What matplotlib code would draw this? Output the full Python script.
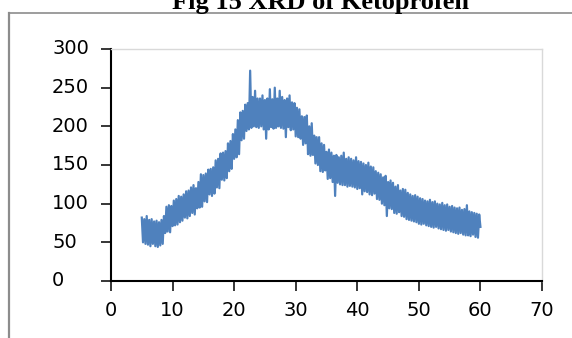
import numpy as np
import matplotlib
matplotlib.use("Agg")
import matplotlib.pyplot as plt
from matplotlib.lines import Line2D
from matplotlib.transforms import blended_transform_factory

# ---- data (2-theta step 0.2 deg from 5 to 60) ----
two_theta_start = 5.0
two_theta_step = 0.2
intensity = [
    82, 50, 80, 48, 84,     47, 79, 45, 80, 48,     77, 45, 78, 44, 76,     46, 79, 48, 84, 62,
    96, 64, 98, 63, 97,     71, 104, 72, 106, 73,   110, 76, 109, 78, 112,  82, 116, 81, 117, 84,
    121, 88, 124, 86, 120,  94, 128, 95, 138, 96,   137, 103, 139, 102, 144, 112, 145, 110, 147, 113,
    156, 121, 158, 120, 165, 131, 166, 130, 168, 133, 178, 142, 181, 145, 190, 158, 196, 160, 208, 164,
    218, 182, 220, 184, 228, 194, 230, 196, 272, 198, 238, 200, 246, 199, 236, 198, 236, 200, 240, 196,
    234, 184, 236, 196, 248, 199, 235, 197, 250, 198, 236, 200, 246, 198, 238, 197, 234, 186, 236, 199,
    240, 195, 231, 196, 230, 187, 224, 186, 222, 184, 213, 176, 212, 178, 214, 164, 200, 162, 204, 163,
    188, 152, 186, 150, 186, 142, 178, 141, 176, 143, 167, 132, 170, 133, 166, 128, 162, 110, 163, 127,
    160, 125, 162, 124, 166, 124, 158, 122, 160, 123, 158, 122, 156, 121, 160, 119, 155, 120, 154, 112,
    152, 116, 150, 115, 153, 112, 148, 111, 147, 113, 142, 106, 140, 105, 138, 100, 134, 98, 136, 84,
    128, 94, 130, 93, 127,  88, 122, 87, 124, 89,   117, 84, 119, 83, 118,  80, 114, 79, 112, 78,
    110, 77, 111, 76, 109,  74, 107, 73, 106, 74,   104, 72, 103, 71, 105,  70, 102, 69, 103, 70,
    100, 68, 99, 67, 101,   66, 98, 65, 99, 66,     96, 64, 97, 63, 95,     62, 94, 61, 95, 62,
    92, 60, 93, 59, 98,     59, 90, 58, 89, 60,     88, 57, 87, 56, 86,
    70,
]
two_theta = two_theta_start + two_theta_step * np.arange(len(intensity))

x_ticks = [0, 10, 20, 30, 40, 50, 60, 70]
y_ticks = [0, 50, 100, 150, 200, 250, 300]
title = "Fig 15 XRD of Ketoprofen"

W, H = 572, 338
fig = plt.figure(figsize=(W / 100, H / 100), dpi=100)

ax_l, ax_r, ax_t, ax_b = 111, 542, 49, 281
ax = fig.add_axes([ax_l / W, (H - ax_b) / H, (ax_r - ax_l) / W, (ax_b - ax_t) / H])

ax.plot(two_theta, intensity, color="#4F81BD", lw=1.6)

ax.set_xlim(0, 70)
ax.set_ylim(0, 300)
ax.set_xticks(x_ticks)
ax.set_yticks(y_ticks)
ax.set_xticklabels([str(v) for v in x_ticks], fontsize=14, family="DejaVu Sans")
ax.set_yticklabels([])

for s in ("left", "bottom"):
    ax.spines[s].set_color("black")
    ax.spines[s].set_linewidth(1.5)
for s in ("top", "right"):
    ax.spines[s].set_color("#d9d9d9")
    ax.spines[s].set_linewidth(1.0)

ax.tick_params(axis="both", direction="out", length=7.5, width=1.1, color="black")
ax.tick_params(axis="x", pad=7)

# y tick labels, left aligned as in the reference
tr = blended_transform_factory(fig.transFigure, ax.transData)
for v in y_ticks:
    ax.text(52 / W, v, str(v), transform=tr, ha="left", va="center",
            fontsize=14, family="DejaVu Sans", clip_on=False)

# outer frame lines (left and top)
fig.add_artist(Line2D([8.5 / W, 8.5 / W], [0, (H - 12.5) / H], transform=fig.transFigure,
                      color="#8c8c8c", lw=1.6))
fig.add_artist(Line2D([8.5 / W, 1.0], [(H - 12.5) / H, (H - 12.5) / H], transform=fig.transFigure,
                      color="#8c8c8c", lw=1.2))

# title (cut off at the top edge, as in the reference)
fig.text(320 / W, (H - 9) / H, title, ha="center", va="baseline",
         fontsize=19, fontweight="bold", family="Liberation Serif")

fig.savefig("out.png", dpi=100)
